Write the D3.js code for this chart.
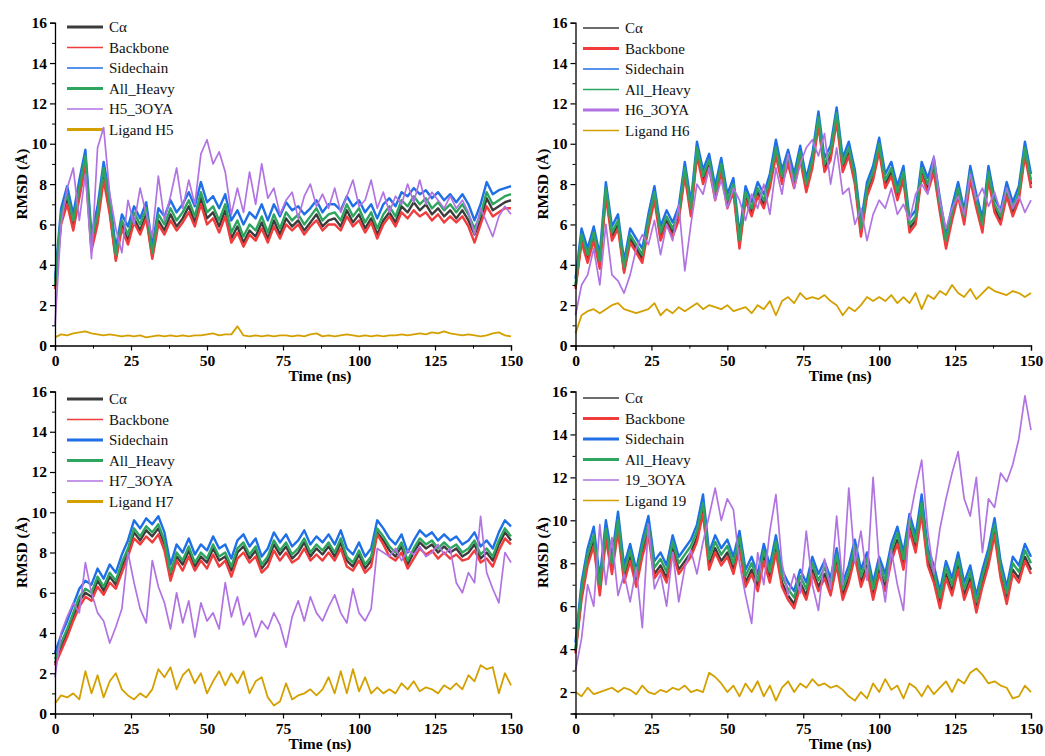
<!DOCTYPE html>
<html>
<head>
<meta charset="utf-8">
<script src="https://cdn.jsdelivr.net/npm/d3@7"></script>
<style>
  body { margin: 0; background: #fff; }
  text { font-family: "Liberation Serif", "Times New Roman", serif; }
</style>
</head>
<body>
<script>
// sampling grid (ns)
const time = d3.range(0, 151, 2);

const xTicks = [0, 25, 50, 75, 100, 125, 150];
const xMinor = [12.5, 37.5, 62.5, 87.5, 112.5, 137.5];
const yTicks = [0, 2, 4, 6, 8, 10, 12, 14, 16];
const yMinor = [1, 3, 5, 7, 9, 11, 13, 15];

const seriesColors = ["#3c3c3c", "#f03c3c", "#1f6fe6", "#2ea55e", "#b173e2", "#d4a000"];
const seriesWidths = [2.4, 2.4, 2.4, 2.4, 1.7, 1.8];

// ---- H5 ----
const caH5 = [2.9,6.2,7.2,5.9,7.5,9.1,4.9,6.2,8.5,6.7, 4.3,6.0,5.2,6.3,5.7,6.5,4.4,6.2,5.7,6.5, 5.9,6.3,6.9,6.1,7.3,6.3,6.6,5.9,6.7,5.3, 5.9,5.1,5.7,5.4,6.1,5.3,6.2,5.5,6.3,5.9, 6.2,5.7,6.1,6.5,5.9,6.2,6.3,5.9,6.7,6.1, 6.5,5.8,6.3,5.5,6.2,6.6,6.1,6.9,6.6,7.1, 6.7,7.0,6.5,6.8,6.4,6.7,6.3,6.7,6.2,5.5, 6.2,7.3,6.7,6.9,7.1,7.2];
const bbH5 = [2.8,6.0,7.0,5.7,7.3,8.9,4.7,6.0,8.2,6.5, 4.2,5.8,5.0,6.1,5.5,6.3,4.3,6.0,5.5,6.2, 5.7,6.1,6.6,5.9,7.0,6.0,6.3,5.6,6.4,5.1, 5.6,4.9,5.5,5.2,5.8,5.1,5.9,5.3,6.0,5.7, 6.0,5.5,5.9,6.2,5.7,6.0,6.0,5.7,6.4,5.9, 6.2,5.6,6.1,5.3,6.0,6.4,5.9,6.6,6.3,6.7, 6.4,6.6,6.2,6.5,6.1,6.4,6.1,6.4,5.9,5.1, 6.0,6.9,6.4,6.6,6.8,6.8];
const scH5 = [3.3,6.8,7.9,6.5,8.2,9.7,5.5,6.9,9.1,7.4, 4.8,6.5,5.9,6.9,6.3,7.1,4.9,6.8,6.4,7.2, 6.6,7.0,7.6,6.9,8.1,7.1,7.4,6.8,7.5,6.2, 6.7,6.0,6.6,6.3,7.0,6.2,7.0,6.4,7.1,6.7, 6.9,6.5,6.8,7.2,6.6,7.0,7.0,6.7,7.4,6.9, 7.2,6.6,7.0,6.3,7.0,7.3,6.9,7.6,7.4,7.8, 7.5,7.7,7.3,7.6,7.2,7.5,7.1,7.5,7.0,6.2, 7.0,8.1,7.5,7.7,7.8,7.9];
const ahH5 = [3.0,6.5,7.5,6.2,7.8,9.4,5.2,6.5,8.8,7.0, 4.5,6.2,5.5,6.6,6.0,6.8,4.6,6.5,6.0,6.8, 6.2,6.6,7.2,6.4,7.6,6.6,6.9,6.2,7.0,5.6, 6.2,5.4,6.0,5.7,6.4,5.6,6.5,5.8,6.6,6.2, 6.5,6.0,6.4,6.8,6.2,6.5,6.6,6.2,7.0,6.4, 6.8,6.1,6.6,5.8,6.5,6.9,6.4,7.2,6.9,7.4, 7.0,7.3,6.8,7.1,6.7,7.0,6.6,7.0,6.5,5.8, 6.5,7.6,7.0,7.2,7.4,7.5];
const cxH5 = [1.0,6.0,7.8,8.8,6.2,8.5,4.3,9.8,10.8,7.5, 5.8,4.6,7.2,6.0,7.8,6.5,5.4,8.4,6.2,7.4, 8.8,6.8,8.2,7.0,9.5,10.2,9.0,9.6,8.6,6.5, 7.8,6.6,8.6,7.0,9.0,7.3,7.8,6.5,7.2,7.6, 6.3,7.4,8.0,6.9,7.5,6.8,7.8,6.6,7.4,8.2, 6.9,7.2,8.2,6.8,7.6,6.6,7.4,7.0,8.0,7.1, 8.2,7.0,7.6,7.2,6.8,7.4,6.8,7.2,6.6,5.5, 6.8,6.1,5.4,6.4,6.9,6.5];
const lgH5 = [0.4,0.55,0.5,0.6,0.65,0.7,0.6,0.55,0.5,0.55, 0.5,0.45,0.5,0.45,0.5,0.4,0.45,0.5,0.45,0.5, 0.45,0.5,0.45,0.5,0.5,0.55,0.6,0.5,0.55,0.55, 0.95,0.5,0.45,0.5,0.45,0.5,0.45,0.5,0.5,0.45, 0.5,0.45,0.55,0.6,0.45,0.5,0.45,0.5,0.55,0.5, 0.45,0.5,0.45,0.5,0.45,0.5,0.5,0.55,0.5,0.55, 0.6,0.55,0.65,0.6,0.7,0.6,0.55,0.5,0.55,0.5, 0.45,0.5,0.6,0.65,0.5,0.45];

// ---- H6 ----
const caH6 = [2.9,5.3,4.3,5.4,4.0,7.6,5.4,6.0,3.7,5.3, 4.8,4.3,6.0,7.4,5.4,6.2,5.6,6.4,8.6,6.6, 9.6,8.2,9.0,7.4,8.8,7.0,7.8,5.0,7.4,6.6, 7.6,7.0,8.0,9.6,8.2,9.2,8.0,9.4,7.8,9.0, 11.1,8.8,9.4,11.3,8.8,9.6,8.2,5.6,7.6,8.4, 9.8,8.0,8.6,7.4,8.4,5.8,6.2,8.6,7.8,8.8, 6.8,5.0,6.4,7.6,6.2,8.4,7.0,5.8,8.4,6.8, 6.2,7.6,6.6,7.4,9.6,8.0];
const bbH6 = [2.8,5.1,4.1,5.2,3.8,7.4,5.2,5.8,3.6,5.1, 4.6,4.1,5.8,7.2,5.2,6.0,5.4,6.2,8.4,6.4, 9.4,8.0,8.8,7.2,8.6,6.8,7.6,4.8,7.2,6.4, 7.4,6.8,7.8,9.4,8.0,9.0,7.8,9.2,7.6,8.8, 10.9,8.6,9.2,11.1,8.6,9.4,8.0,5.4,7.4,8.2, 9.6,7.8,8.4,7.2,8.2,5.6,6.0,8.4,7.6,8.6, 6.6,4.8,6.2,7.4,6.0,8.2,6.8,5.6,8.2,6.6, 6.0,7.4,6.4,7.2,9.4,7.8];
const scH6 = [3.3,5.8,4.8,5.9,4.5,8.1,5.9,6.5,4.2,5.8, 5.3,4.8,6.5,7.9,5.9,6.7,6.1,6.9,9.1,7.1, 10.1,8.7,9.5,7.9,9.3,7.5,8.3,5.5,7.9,7.1, 8.1,7.5,8.5,10.2,8.7,9.7,8.5,9.9,8.3,9.5, 11.6,9.3,9.9,11.8,9.3,10.1,8.7,6.1,8.1,8.9, 10.3,8.5,9.1,7.9,8.9,6.3,6.7,9.1,8.3,9.3, 7.3,5.5,6.9,8.1,6.7,8.9,7.5,6.3,8.9,7.3, 6.7,8.1,7.1,7.9,10.1,8.5];
const ahH6 = [3.0,5.5,4.5,5.6,4.2,7.8,5.6,6.2,3.9,5.5, 5.0,4.5,6.2,7.6,5.6,6.4,5.8,6.6,8.8,6.8, 9.8,8.4,9.2,7.6,9.0,7.2,8.0,5.2,7.6,6.8, 7.8,7.2,8.2,9.8,8.4,9.4,8.2,9.6,8.0,9.2, 11.3,9.0,9.6,11.5,9.0,9.8,8.4,5.8,7.8,8.6, 10.0,8.2,8.8,7.6,8.6,6.0,6.4,8.8,8.0,9.0, 7.0,5.2,6.6,7.8,6.4,8.6,7.2,6.0,8.6,7.0, 6.4,7.8,6.8,7.6,9.8,8.2];
const cxH6 = [1.5,3.0,3.5,4.8,3.0,6.0,3.5,3.2,2.6,3.5, 4.8,5.5,5.0,6.2,4.5,6.0,5.2,7.0,3.7,6.0, 8.0,7.5,8.8,7.2,8.2,6.8,7.8,7.2,6.2,7.5, 6.8,8.0,6.5,8.8,7.5,9.5,7.8,9.0,9.8,10.2, 9.4,10.5,8.0,9.8,7.5,7.8,6.0,6.8,5.2,6.5, 7.2,6.8,7.8,6.5,7.0,6.2,7.5,8.0,7.5,9.4, 7.2,5.8,6.8,7.4,6.5,8.5,7.2,7.8,6.9,7.6, 6.6,7.8,6.8,7.4,6.6,7.2];
const lgH6 = [0.6,1.5,1.7,1.8,1.6,1.8,2.0,2.1,1.8,1.7, 1.6,1.7,1.8,2.1,1.5,1.8,1.6,1.9,1.7,1.9, 2.1,1.8,2.0,1.9,1.8,2.0,1.7,1.8,1.9,1.6, 2.0,1.8,2.2,1.5,2.2,2.4,2.1,2.6,2.3,2.4, 2.3,2.5,2.2,2.0,1.5,1.9,1.7,2.0,2.4,2.2, 2.4,2.2,2.5,2.1,2.4,2.1,2.6,1.8,2.5,2.3, 2.7,2.5,3.0,2.6,2.4,2.8,2.3,2.6,2.9,2.7, 2.6,2.5,2.7,2.6,2.4,2.6];

// ---- H7 ----
const caH7 = [2.5,3.3,4.0,4.8,5.6,6.0,5.8,6.6,6.1,6.8, 6.4,7.3,8.0,9.0,8.6,9.1,8.8,9.2,8.4,6.8, 7.8,7.4,8.1,7.3,7.8,7.5,8.2,7.6,7.8,7.1, 8.0,8.3,7.7,8.1,7.2,7.6,8.4,7.9,8.3,7.7, 8.0,8.5,7.8,8.2,7.9,8.3,7.8,8.5,7.6,7.3, 7.9,7.2,7.6,9.0,8.6,8.1,7.8,8.3,7.4,8.0, 8.5,8.2,8.4,8.0,8.3,8.0,8.2,7.8,8.0,8.4, 7.7,8.0,7.6,8.4,9.0,8.6];
const bbH7 = [2.4,3.1,3.8,4.6,5.3,5.8,5.6,6.3,5.9,6.5, 6.2,7.0,7.8,8.7,8.4,8.8,8.5,8.9,8.1,6.6, 7.6,7.1,7.8,7.1,7.6,7.2,7.9,7.3,7.6,6.8, 7.7,8.0,7.5,7.8,7.0,7.3,8.1,7.6,8.0,7.5, 7.7,8.2,7.6,7.9,7.6,8.0,7.6,8.2,7.3,7.1, 7.6,7.0,7.3,8.9,8.4,7.8,7.6,8.0,7.2,7.7, 8.2,7.9,8.1,7.7,8.0,7.7,7.9,7.6,7.7,8.1, 7.5,7.7,7.3,8.1,8.7,8.4];
const scH7 = [3.0,3.9,4.6,5.4,6.2,6.6,6.4,7.2,6.7,7.4, 7.0,7.9,8.6,9.6,9.2,9.7,9.4,9.8,9.0,7.4, 8.4,8.0,8.7,7.9,8.4,8.1,8.8,8.2,8.4,7.7, 8.6,8.9,8.3,8.7,7.8,8.2,9.0,8.5,8.9,8.3, 8.6,9.1,8.4,8.8,8.5,8.9,8.4,9.1,8.2,7.9, 8.5,7.8,8.2,9.6,9.2,8.7,8.4,8.9,8.0,8.6, 9.1,8.8,9.0,8.6,8.9,8.6,8.8,8.4,8.6,9.0, 8.3,8.6,8.2,9.0,9.6,9.3];
const ahH7 = [2.7,3.5,4.2,5.0,5.8,6.2,6.0,6.8,6.3,7.0, 6.6,7.5,8.2,9.2,8.8,9.3,9.0,9.4,8.6,7.0, 8.0,7.6,8.3,7.5,8.0,7.7,8.4,7.8,8.0,7.3, 8.2,8.5,7.9,8.3,7.4,7.8,8.6,8.1,8.5,7.9, 8.2,8.7,8.0,8.4,8.1,8.5,8.0,8.7,7.8,7.5, 8.1,7.4,7.8,9.2,8.8,8.3,8.0,8.5,7.6,8.2, 8.7,8.4,8.6,8.2,8.5,8.2,8.4,8.0,8.2,8.6, 7.9,8.2,7.8,8.6,9.2,8.8];
const cxH7 = [1.8,4.0,4.8,5.5,5.0,7.5,6.0,5.0,4.6,3.5, 4.3,5.2,8.0,6.5,5.2,4.5,7.6,6.3,5.5,4.2, 6.0,4.5,5.6,3.8,5.5,4.6,5.0,4.2,6.5,4.8, 5.8,4.4,5.0,3.8,4.6,4.2,5.0,4.4,3.3,4.8, 5.6,4.6,5.8,5.0,4.6,5.3,5.9,5.0,4.5,6.2, 5.0,4.6,5.2,8.2,8.0,7.8,8.2,7.6,8.1,7.9, 8.3,7.8,8.0,8.4,7.9,8.2,6.5,6.0,7.0,6.5, 9.8,7.0,6.2,5.5,8.0,7.5];
const lgH7 = [0.5,0.9,0.8,1.0,0.7,2.1,1.0,1.9,0.8,1.6, 2.0,1.2,0.9,0.7,1.0,0.8,1.2,2.2,1.8,2.3, 1.2,1.9,2.2,1.5,2.0,1.0,1.6,2.1,1.4,2.0, 1.5,2.1,1.0,1.6,1.8,0.8,0.4,0.6,1.5,0.7, 0.9,1.0,1.2,0.9,1.2,1.8,1.0,2.1,1.0,2.2, 1.1,1.8,1.0,1.3,1.0,1.2,1.0,1.5,1.2,1.6, 1.1,1.3,1.2,1.0,1.4,1.2,1.5,1.2,1.9,1.6, 2.4,2.2,2.3,1.0,2.0,1.4];

// ---- 19 ----
const ca19 = [3.9,6.5,8.1,9.0,6.7,9.3,7.7,9.7,7.3,8.3, 7.1,8.5,9.5,7.5,7.9,7.3,8.7,7.7,8.1,8.5, 9.2,10.5,7.9,8.7,8.1,8.5,7.7,8.9,7.1,7.7, 6.9,8.3,7.3,8.7,7.1,6.5,6.1,7.1,6.5,7.7, 6.9,7.5,6.7,8.1,6.5,7.3,8.5,7.1,7.9,6.5, 7.7,6.9,8.3,9.1,7.9,9.7,8.7,10.5,8.1,7.3, 6.1,7.5,6.7,7.9,6.5,7.3,5.9,7.1,8.1,9.5, 7.5,6.3,7.7,7.3,8.3,7.7];
const bb19 = [3.8,6.3,7.9,8.8,6.5,9.1,7.5,9.5,7.1,8.1, 6.9,8.3,9.3,7.3,7.7,7.1,8.5,7.5,7.9,8.3, 9.0,10.3,7.7,8.5,7.9,8.3,7.5,8.7,6.9,7.5, 6.7,8.1,7.1,8.5,6.9,6.3,5.9,6.9,6.3,7.5, 6.7,7.3,6.5,7.9,6.3,7.1,8.3,6.9,7.7,6.3, 7.5,6.7,8.1,8.9,7.7,9.5,8.5,10.3,7.9,7.1, 5.9,7.3,6.5,7.7,6.3,7.1,5.7,6.9,7.9,9.3, 7.3,6.1,7.5,7.1,8.1,7.5];
const sc19 = [4.3,7.1,8.7,9.7,7.3,10.0,8.3,10.4,7.9,8.9, 7.7,9.1,10.2,8.1,8.5,7.9,9.3,8.3,8.7,9.1, 9.8,11.2,8.5,9.3,8.7,9.1,8.3,9.5,7.7,8.3, 7.5,8.9,7.9,9.3,7.7,7.1,6.7,7.7,7.1,8.3, 7.5,8.1,7.3,8.7,7.1,7.9,9.1,7.7,8.5,7.1, 8.3,7.5,8.9,9.7,8.5,10.3,9.3,11.2,8.7,7.9, 6.7,8.1,7.3,8.5,7.1,7.9,6.5,7.7,8.7,10.1, 8.1,6.9,8.3,7.9,8.9,8.3];
const ah19 = [4.0,6.8,8.4,9.3,7.0,9.6,8.0,10.0,7.6,8.6, 7.4,8.8,9.8,7.8,8.2,7.6,9.0,8.0,8.4,8.8, 9.5,10.8,8.2,9.0,8.4,8.8,8.0,9.2,7.4,8.0, 7.2,8.6,7.6,9.0,7.4,6.8,6.4,7.4,6.8,8.0, 7.2,7.8,7.0,8.4,6.8,7.6,8.8,7.4,8.2,6.8, 8.0,7.2,8.6,9.4,8.2,10.0,9.0,10.8,8.4,7.6, 6.4,7.8,7.0,8.2,6.8,7.6,6.2,7.4,8.4,9.8, 7.8,6.6,8.0,7.6,8.6,8.0];
const cx19 = [3.0,4.5,7.0,6.0,9.8,7.0,9.2,6.5,7.5,6.2, 7.8,5.0,9.8,6.8,7.5,6.0,8.5,6.2,7.8,8.6, 7.5,9.0,10.2,11.5,10.0,11.0,10.5,8.0,6.5,5.2, 8.5,7.0,9.5,11.2,8.0,6.5,7.5,6.6,9.5,7.0, 5.8,8.2,6.8,10.2,7.0,11.5,8.0,9.5,7.2,12.0, 8.0,6.2,8.6,7.0,5.8,10.0,11.5,12.8,9.5,7.5, 9.6,11.0,12.2,13.2,11.0,10.2,12.0,8.5,11.0,10.6, 12.2,11.8,12.6,13.8,15.8,14.2];
const lg19 = [2.0,1.8,2.2,1.9,2.0,2.1,2.2,2.0,2.2,2.1, 1.9,2.3,2.0,1.9,2.1,2.0,2.2,2.1,2.3,2.0, 2.1,2.0,2.9,2.7,2.4,2.0,2.3,1.8,2.4,2.0, 2.5,1.8,2.3,1.6,2.2,2.5,2.0,2.4,2.2,2.6, 2.3,2.4,2.2,2.3,2.1,1.8,1.6,2.0,1.7,2.4, 2.0,2.6,2.1,2.3,1.7,2.4,2.2,1.8,2.3,1.9, 2.2,2.5,2.0,2.6,2.4,2.9,3.1,2.8,2.4,2.5, 2.3,2.2,1.7,1.8,2.3,2.0];

const panels = [
  { names: ["Cα", "Backbone", "Sidechain", "All_Heavy", "H5_3OYA", "Ligand H5"],
    series: [caH5, bbH5, scH5, ahH5, cxH5, lgH5],
    left: 55, right: 511, top: 22.7, bottom: 345.5, ymin: 0,
    legX: 67, legY: 27, legW: [3, 1.5, 1.5, 3, 1.5, 3] },
  { names: ["Cα", "Backbone", "Sidechain", "All_Heavy", "H6_3OYA", "Ligand H6"],
    series: [caH6, bbH6, scH6, ahH6, cxH6, lgH6],
    left: 575.5, right: 1031, top: 22.7, bottom: 345.5, ymin: 0,
    legX: 583, legY: 28, legW: [1.5, 3, 1.5, 1.5, 3, 1.5] },
  { names: ["Cα", "Backbone", "Sidechain", "All_Heavy", "H7_3OYA", "Ligand H7"],
    series: [caH7, bbH7, scH7, ahH7, cxH7, lgH7],
    left: 55, right: 511, top: 391.5, bottom: 713.5, ymin: 0,
    legX: 67, legY: 399, legW: [3, 1.5, 3, 3, 1.5, 3] },
  { names: ["Cα", "Backbone", "Sidechain", "All_Heavy", "19_3OYA", "Ligand 19"],
    series: [ca19, bb19, sc19, ah19, cx19, lg19],
    left: 575.5, right: 1031, top: 391.5, bottom: 713.5, ymin: 1,
    legX: 583, legY: 398, legW: [1.5, 3, 3, 3, 1.5, 1.5] }
];

const svg = d3.select("body").append("svg")
    .attr("width", 1045)
    .attr("height", 756);

svg.append("rect").attr("width", 1045).attr("height", 756).attr("fill", "#fff");

panels.forEach(p => {

    const x = d3.scaleLinear().domain([0, 150]).range([p.left, p.right]);
    const y = d3.scaleLinear().domain([p.ymin, 16]).range([p.bottom, p.top]);

    const g = svg.append("g");

    // legend (under the data, as in the original)
    const leg = g.append("g");
    p.names.forEach((n, i) => {
        const cy = p.legY + i * 20.5;
        leg.append("line")
            .attr("x1", p.legX).attr("x2", p.legX + 36)
            .attr("y1", cy).attr("y2", cy)
            .attr("stroke", seriesColors[i])
            .attr("stroke-width", p.legW[i]);
        leg.append("text")
            .attr("x", p.legX + 42)
            .attr("y", cy + 5)
            .attr("font-size", 15)
            .attr("fill", "#111")
            .text(n);
    });

    const line = d3.line()
        .x((d, i) => x(time[i]))
        .y(d => y(d));

    p.series.forEach((s, k) => {
        g.append("path")
            .datum(s)
            .attr("d", line)
            .attr("fill", "none")
            .attr("stroke", seriesColors[k])
            .attr("stroke-width", seriesWidths[k])
            .attr("stroke-linejoin", "round");
    });

    // axes
    const xAxis = g.append("g")
        .attr("transform", `translate(0,${p.bottom})`)
        .call(d3.axisBottom(x).tickValues(xTicks).tickSize(5).tickPadding(4).tickFormat(d3.format("d")));
    g.append("g")
        .attr("transform", `translate(0,${p.bottom})`)
        .call(d3.axisBottom(x).tickValues(xMinor).tickSize(3).tickFormat(""))
        .select(".domain").remove();

    const yAxis = g.append("g")
        .attr("transform", `translate(${p.left},0)`)
        .call(d3.axisLeft(y).tickValues(yTicks.filter(v => v >= p.ymin)).tickSize(5).tickPadding(3).tickFormat(d3.format("d")));
    g.append("g")
        .attr("transform", `translate(${p.left},0)`)
        .call(d3.axisLeft(y).tickValues(yMinor.filter(v => v >= p.ymin)).tickSize(3).tickFormat(""))
        .select(".domain").remove();

    [xAxis, yAxis].forEach(a => {
        a.select(".domain").attr("stroke", "#000").attr("stroke-width", 1.3);
        a.selectAll(".tick line").attr("stroke", "#000").attr("stroke-width", 1.2);
        a.selectAll(".tick text")
            .attr("font-family", "'Liberation Serif', 'Times New Roman', serif")
            .attr("font-size", 15.5)
            .attr("font-weight", "bold")
            .attr("fill", "#000");
    });
    g.selectAll(".tick line").attr("stroke", "#000");

    g.append("text")
        .attr("x", (p.left + p.right) / 2 + 37)
        .attr("y", p.bottom + 35)
        .attr("text-anchor", "middle")
        .attr("font-size", 15.5)
        .attr("font-weight", "bold")
        .text("Time (ns)");

    g.append("text")
        .attr("transform", `translate(${p.left - 28},${(p.top + p.bottom) / 2}) rotate(-90)`)
        .attr("text-anchor", "middle")
        .attr("font-size", 15.5)
        .attr("font-weight", "bold")
        .text("RMSD (Å)");
});
</script>
</body>
</html>
